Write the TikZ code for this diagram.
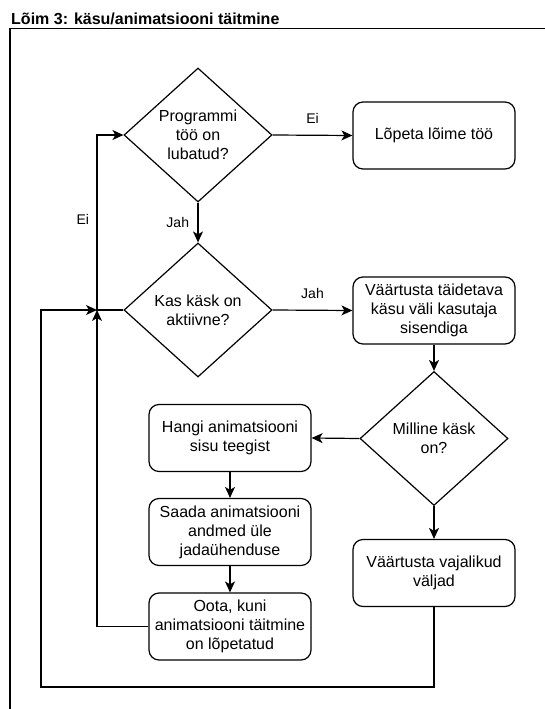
\documentclass[tikz,border=0pt]{standalone}
\usepackage{fontspec}
\setmainfont{Liberation Sans}
\usetikzlibrary{shapes.geometric,arrows.meta}
\begin{document}
\begin{tikzpicture}[x=1pt,y=-1pt,
  every node/.style={font=\fontsize{16}{19}\selectfont, align=center},
  decision/.style={draw, line width=1.2pt, shape=diamond, inner sep=0pt,
    aspect=1.1, minimum width=148pt, minimum height=134pt},
  stepbox/.style={draw, line width=1.2pt, rectangle, rounded corners=10pt,
    minimum width=162pt, minimum height=67pt, inner sep=2pt},
  edgelabel/.style={font=\fontsize{14}{16}\selectfont},
  flow/.style={line width=1.2pt, -{Stealth[length=11pt,width=10pt,inset=3pt]}},
  plain/.style={line width=1.2pt},
  frame/.style={line width=1.3pt}]
\useasboundingbox (0,0) rectangle (545,709);

% swimlane heading and its open frame
\node[anchor=base west, inner sep=0pt, font=\bfseries\fontsize{16}{19}\selectfont]
  (title) at (11,25) {Lõim 3: käsu/animatsiooni täitmine};
\draw[frame] (10,709) -- (10,28.5) -- (545,28.5);

% decisions
\node[decision] (d1) at (198,135) {Programmi\\töö on\\lubatud?};
\node[decision] (d2) at (198,310) {Kas käsk on\\aktiivne?};
\node[decision] (d3) at (434,438.5) {Milline käsk\\on?};

% process steps
\node[stepbox] (stop) at (434,135.5) {Lõpeta lõime töö};
\node[stepbox] (set) at (434,310.5) {Väärtusta täidetava\\käsu väli kasutaja\\sisendiga};
\node[stepbox] (fetch) at (230,438) {Hangi animatsiooni\\sisu teegist};
\node[stepbox] (send) at (230,532) {Saada animatsiooni\\andmed üle\\jadaühenduse};
\node[stepbox] (wait) at (230,626.5) {Oota, kuni\\animatsiooni täitmine\\on lõpetatud};
\node[stepbox] (fields) at (434,573) {Väärtusta vajalikud\\väljad};

% routing points of the loop
\coordinate (j) at (97,310);
\coordinate (lb) at (41,687);

% connectors
\draw[flow] (d1.east) -- (stop.west) node[midway, above=8pt, edgelabel] {Ei};
\draw[flow] (d1.south) -- (d2.north) node[midway, left=5pt, edgelabel] {Jah};
\draw[flow] (d2.east) -- (set.west) node[midway, above=8pt, edgelabel] {Jah};
\draw[flow] (set.south) -- (d3.north);
\draw[flow] (d3.west) -- (fetch.east);
\draw[flow] (d3.south) -- (fields.north);
\draw[flow] (fetch.south) -- (send.north);
\draw[flow] (send.south) -- (wait.north);
\draw[flow] (d2.west) -- (j) |- (d1.west) node[pos=0.26, left=4pt, edgelabel] {Ei};
\draw[flow] (wait.west) -| (j);
\draw[flow] (fields.south) |- (lb) |- (j);
\end{tikzpicture}
\end{document}
